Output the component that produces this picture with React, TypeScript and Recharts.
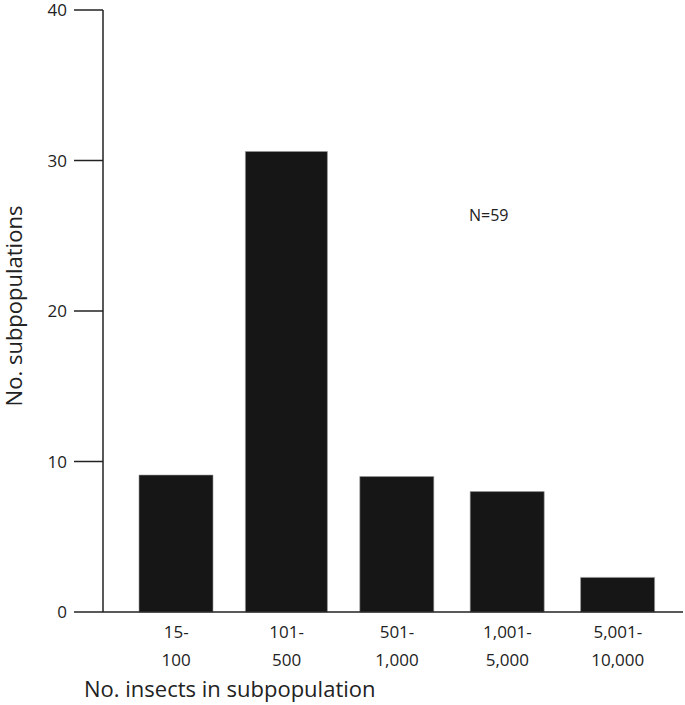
import React from 'react';
import { BarChart, Bar, XAxis, YAxis, Rectangle } from 'recharts';

const categories = ['15-|100', '101-|500', '501-|1,000', '1,001-|5,000', '5,001-|10,000'];
const counts = [9.1, 30.6, 9.0, 8.0, 2.3];
const yTicks = [0, 10, 20, 30, 40];

const data = categories.map((c, i) => ({ range: c, count: counts[i] }));

const FONT = '"Open Sans", Lato, sans-serif';

const RangeTick = (props: any) => {
    const { x, y, payload } = props;
    const [top, bottom] = String(payload.value).split('|');
    return (
        <g>
            <text x={x} y={y + 18} textAnchor="middle" fontSize={17} fill="#222" fontFamily={FONT}>{top}</text>
            <text x={x} y={y + 46} textAnchor="middle" fontSize={17} fill="#222" fontFamily={FONT}>{bottom}</text>
        </g>
    );
};

// the second bar in the original is a touch wider than the others
const BarShape = (props: any) => {
    const extra = props.index === 1 ? 8 : 0;
    return <Rectangle {...props} x={props.x - extra / 2} width={props.width + extra} />;
};

const App: React.FC = () => {
    return (
        <div style={{ position: 'absolute', left: 0, top: 0, width: 685, height: 705 }}>
            <BarChart width={685} height={705} data={data} margin={{ top: 10, right: 2, bottom: 0, left: 0 }} barCategoryGap={18}>
                <XAxis
                    dataKey="range"
                    padding={{ left: 18, right: 10 }}
                    tickLine={false}
                    axisLine={{ stroke: '#222', strokeWidth: 1.5 }}
                    tick={<RangeTick />}
                    height={93}
                    interval={0}
                />
                <YAxis
                    domain={[0, 40]}
                    ticks={yTicks}
                    width={103}
                    tickSize={29}
                    tickMargin={7}
                    tickLine={{ stroke: '#222', strokeWidth: 1.5 }}
                    axisLine={{ stroke: '#222', strokeWidth: 1.5 }}
                    tick={{ fontSize: 17, fill: '#222', fontFamily: FONT }}
                />
                <Bar dataKey="count" fill="#161616" stroke="#999" strokeWidth={0.6} shape={<BarShape />} isAnimationActive={false} />
            </BarChart>
            <svg width={685} height={705} style={{ position: 'absolute', left: 0, top: 0, pointerEvents: 'none' }}>
                <text x={469} y={221} fontSize={16} fill="#222" fontFamily={FONT}>N=59</text>
                <text x={84} y={697} fontSize={22} fill="#222" fontFamily={FONT}>No. insects in subpopulation</text>
                <text transform="translate(22, 306) rotate(-90)" textAnchor="middle" fontSize={22} fill="#222" fontFamily={FONT}>No. subpopulations</text>
            </svg>
        </div>
    );
};

export default App;
